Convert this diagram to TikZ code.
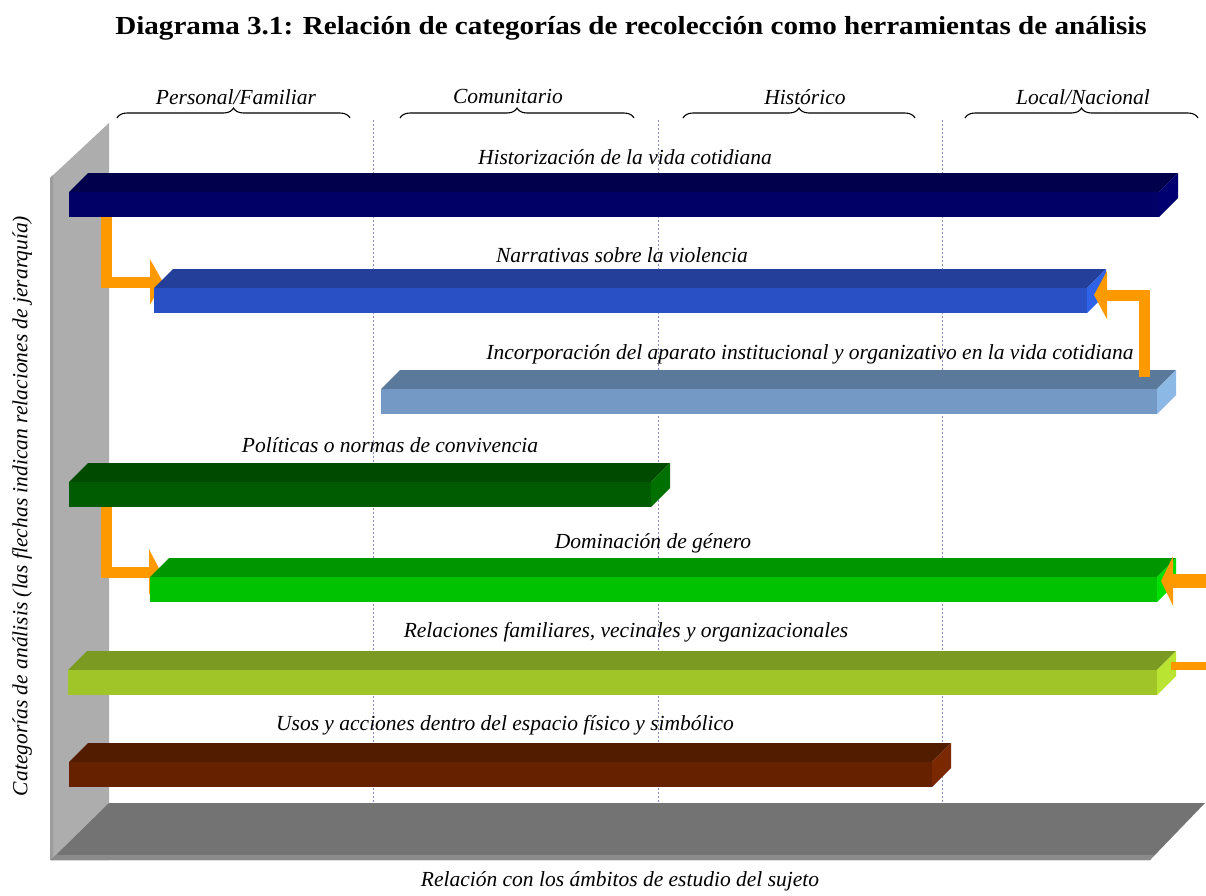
\documentclass[tikz,border=0pt]{standalone}
\usepackage{fontspec}
\setmainfont{Liberation Serif}
\usetikzlibrary{arrows.meta,decorations.pathreplacing}
\definecolor{wallc}{HTML}{ADADAD}
\definecolor{wallstrip}{HTML}{9C9C9C}
\definecolor{floorc}{HTML}{737373}
\definecolor{floorstrip}{HTML}{8A8A8A}
\definecolor{gridc}{HTML}{8888C0}
\definecolor{arrc}{HTML}{FF9900}
\definecolor{navyF}{HTML}{000066}\definecolor{navyT}{HTML}{00004C}\definecolor{navyS}{HTML}{000070}
\definecolor{blueF}{HTML}{2A50C6}\definecolor{blueT}{HTML}{233F99}\definecolor{blueS}{HTML}{2E62E8}
\definecolor{lbF}{HTML}{7399C4}\definecolor{lbT}{HTML}{5B7A9B}\definecolor{lbS}{HTML}{8BB8E5}
\definecolor{dgF}{HTML}{005C00}\definecolor{dgT}{HTML}{004A00}\definecolor{dgS}{HTML}{007000}
\definecolor{gF}{HTML}{00C200}\definecolor{gT}{HTML}{009600}\definecolor{gS}{HTML}{00E000}
\definecolor{ygF}{HTML}{A0C528}\definecolor{ygT}{HTML}{7A9A22}\definecolor{ygS}{HTML}{B9E432}
\definecolor{brF}{HTML}{662200}\definecolor{brT}{HTML}{521C00}\definecolor{brS}{HTML}{7A2800}
% #1 x1, #2 x2, #3 ytop, #4 color prefix
\newcommand\catbar[4]{%
  \fill[#4T] (#1,#3) -- ({#1+19},{#3-19}) -- ({#2+19},{#3-19}) -- (#2,#3) -- cycle;
  \fill[#4S] (#2,#3) -- ({#2+19},{#3-19}) -- ({#2+19},{#3+6}) -- (#2,{#3+25}) -- cycle;
  \fill[#4F] (#1,#3) rectangle (#2,{#3+25});
}
\tikzset{
  lbl/.style={font=\fontsize{21.5}{24}\selectfont\itshape, inner sep=0pt},
  toplbl/.style={font=\fontsize{21.5}{24}\selectfont\itshape, inner sep=0pt},
  grid/.style={gridc, line width=0.9pt, dash pattern=on 2pt off 2pt},
  brc/.style={decorate, decoration={brace, amplitude=10pt}, line width=1.1pt},
  conn/.style={arrc, line width=11pt, line join=miter},
}
\begin{document}
\begin{tikzpicture}[x=1pt,y=-1pt]
\useasboundingbox (0,0) rectangle (1206,895);
\fill[white] (0,0) rectangle (1206,895);
% title
\node[font=\fontsize{26}{30}\selectfont\bfseries, inner sep=0pt, xscale=1.12] (title) at (631,28) {Diagrama 3.1: Relación de categorías de recolección como herramientas de análisis};
% wall and floor
\fill[wallc] (50,178) -- (109,123) -- (109,860) -- (50,860) -- cycle;
\fill[wallstrip] (50,178) -- (53,175) -- (53,860) -- (50,860) -- cycle;
\fill[floorc] (109,803) -- (1205,803) -- (1150,860) -- (51,860) -- cycle;
\fill[floorstrip] (56,855) -- (1154,855) -- (1150,860) -- (51,860) -- cycle;
% grid lines
\draw[grid] (373,120) -- (373,802);
\draw[grid] (658,120) -- (658,802);
\draw[grid] (942,120) -- (942,802);
% braces
\draw[brc] (117,118) -- (350,118);
\draw[brc] (400,118) -- (634,118);
\draw[brc] (683,118) -- (915,118);
\draw[brc] (965,118) -- (1198,118);
\node[toplbl] (c1) at (236,97) {Personal/Familiar};
\node[toplbl] (c2) at (508,97) {Comunitario};
\node[toplbl] (c3) at (805,97) {Histórico};
\node[toplbl] (c4) at (1083,97) {Local/Nacional};
% connector coordinates
\coordinate (a1s) at (106,216);
\coordinate (a1t) at (163,282);
\coordinate (a2s) at (1144.5,377);
\coordinate (a2t) at (1094,295);
\coordinate (a3s) at (106,505);
\coordinate (a3t) at (161,572);
\coordinate (a4s) at (1206,581);
\coordinate (a4t) at (1161,581);
\coordinate (a5s) at (1206,666);
\coordinate (a5t) at (1171,666);
% arrows behind bars
\draw[conn, -{Triangle[width=45pt,length=13pt]}] (a1s) |- (a1t);
\draw[conn, -{Triangle[width=45pt,length=12pt]}] (a3s) |- (a3t);
% bars
\catbar{69}{1159}{192}{navy}
\catbar{154}{1087}{288}{blue}
\catbar{381}{1157}{389}{lb}
\catbar{69}{651}{482}{dg}
\catbar{150}{1157}{577}{g}
\catbar{68}{1157}{670}{yg}
\catbar{69}{932}{762}{br}
% arrows in front
\draw[conn, -{Triangle[width=48pt,length=13pt]}] (a2s) |- (a2t);
\draw[conn, line width=14pt, -{Triangle[width=49pt,length=12pt]}] (a4s) -- (a4t);
\draw[conn, line width=8pt] (a5s) -- (a5t);
% bar labels
\node[lbl] (l1) at (625,157) {Historización de la vida cotidiana};
\node[lbl] (l2) at (622,255) {Narrativas sobre la violencia};
\node[lbl] (l3) at (810,354) {Incorporación del aparato institucional y organizativo en la vida cotidiana};
\node[lbl] (l4) at (390,445) {Políticas o normas de convivencia};
\node[lbl] (l5) at (653,543) {Dominación de género};
\node[lbl] (l6) at (626,632) {Relaciones familiares, vecinales y organizacionales};
\node[lbl] (l7) at (505,725) {Usos y acciones dentro del espacio físico y simbólico};
% axis labels
\node[lbl] (xlab) at (620,881) {Relación con los ámbitos de estudio del sujeto};
\node[lbl, rotate=90] (ylab) at (22,506) {Categorías de análisis (las flechas indican relaciones de jerarquía)};
\end{tikzpicture}
\end{document}
